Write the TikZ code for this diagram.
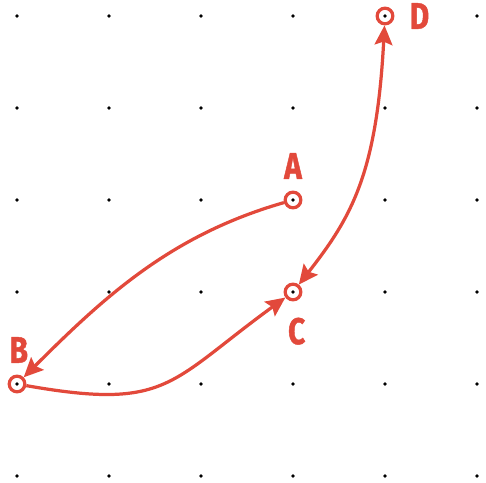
\documentclass[tikz,border=0pt]{standalone}
\usepackage{fontspec}
\usepackage{tikz}
\usetikzlibrary{arrows.meta}
\newfontfamily\pinfont[FakeStretch=0.8, BoldFeatures={FakeBold=1.2}]{Fira Sans}
\definecolor{pinred}{HTML}{E2493B}
\tikzset{
    pin/.style={draw=pinred, circle, line width=1pt, minimum size=0.17cm, inner sep=0pt},
    lbl/.style={text=pinred, font=\pinfont\bfseries\fontsize{11.5}{11.5}\selectfont, inner sep=0pt},
    link/.style={draw=pinred, line width=1pt, -{Stealth[length=6pt, width=5.5pt, inset=1pt]}}
}
\begin{document}
\begin{tikzpicture}
\useasboundingbox (-0.185,-0.076) rectangle (5.098,5.174);
% grid of dots
\foreach \i in {0,...,5}
  \foreach \j in {0,...,5}
    \fill (\i,\j) circle (0.021);
% points
\node[pin, label={[lbl, label distance=0.12cm]above:A}] (A) at (3,3) {};
\node[pin, label={[lbl, label distance=0.12cm, xshift=0.02cm]above:B}] (B) at (0,1) {};
\node[pin, label={[lbl, label distance=0.17cm, xshift=0.04cm]below:C}] (C) at (3,2) {};
\node[pin, label={[lbl, label distance=0.16cm]right:D}] (D) at (4,5) {};
% connectors
\draw[link] (A) to[out=196, in=45, looseness=0.95] (B);
\draw[link] (B) to[out=-10, in=216, looseness=1.35] (C);
\draw[link, {Stealth[length=6pt, width=5.5pt, inset=1pt]}-{Stealth[length=6pt, width=5.5pt, inset=1pt]}] (D) to[out=-93, in=52, out looseness=1.4, in looseness=0.8] (C);
\end{tikzpicture}
\end{document}
